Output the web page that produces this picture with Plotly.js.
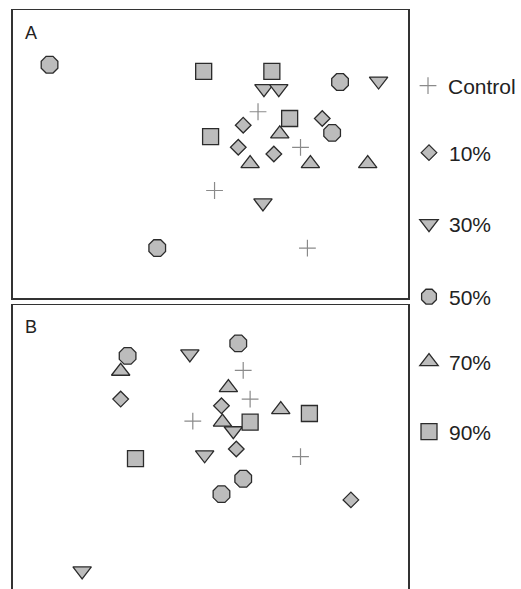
<!DOCTYPE html>
<html>
<head>
<meta charset="utf-8">
<script src="https://cdn.plot.ly/plotly-3.0.1.min.js"></script>
<style>
  html, body { margin: 0; padding: 0; background: #ffffff; }
  #chart { width: 521px; height: 589px; }
</style>
</head>
<body>
<div id="chart"></div>
<script>
// ---- Data (ordination scores, arbitrary units) ----
const groups = ['Control', '10%', '30%', '50%', '70%', '90%'];

// Panel A
const A_control_x = [0.48, 0.91, 0.04, 0.98];
const A_control_y = [0.44, 0.07, -0.38, -0.98];
const A_10_x = [0.33, 1.13, 0.28, 0.64];
const A_10_y = [0.30, 0.37, 0.07, 0.00];
const A_30_x = [0.54, 0.69, 1.70, 0.53];
const A_30_y = [0.68, 0.68, 0.76, -0.51];
const A_50_x = [-1.63, 1.31, 1.23, -0.54];
const A_50_y = [0.93, 0.75, 0.22, -0.98];
const A_70_x = [0.70, 0.40, 1.01, 1.59];
const A_70_y = [0.21, -0.10, -0.10, -0.10];
const A_90_x = [-0.07, 0.62, 0.80, 0.00];
const A_90_y = [0.86, 0.86, 0.37, 0.18];

// Panel B
const B_control_x = [0.33, 0.40, -0.18, 0.91];
const B_control_y = [0.82, 0.52, 0.29, -0.08];
const B_10_x = [-0.91, 0.11, 0.26, 1.42];
const B_10_y = [0.52, 0.45, 0.00, -0.53];
const B_30_x = [-0.21, 0.23, -0.06, -1.30];
const B_30_y = [0.99, 0.19, -0.06, -1.27];
const B_50_x = [0.28, -0.84, 0.33, 0.11];
const B_50_y = [1.10, 0.97, -0.31, -0.47];
const B_70_x = [-0.91, 0.18, 0.71, 0.12];
const B_70_y = [0.81, 0.64, 0.41, 0.28];
const B_90_x = [0.40, 1.00, -0.76];
const B_90_y = [0.28, 0.37, -0.10];

const panelLabels = ['A', 'B'];

// ---- Styles ----
const W = 521, H = 589;
const fill = '#bcbcbc';
const edge = '#2b2b2b';
const symbols = ['cross-thin', 'diamond', 'triangle-down', 'octagon', 'triangle-up', 'square'];
const sizes = [12, 12, 16, 18, 16, 16];
const legendNames = ['legend', 'legend2', 'legend3', 'legend4', 'legend5', 'legend6'];
const legendY = [86, 153, 224, 297, 362, 432];

const dataA = [[A_control_x, A_control_y], [A_10_x, A_10_y], [A_30_x, A_30_y],
               [A_50_x, A_50_y], [A_70_x, A_70_y], [A_90_x, A_90_y]];
const dataB = [[B_control_x, B_control_y], [B_10_x, B_10_y], [B_30_x, B_30_y],
               [B_50_x, B_50_y], [B_70_x, B_70_y], [B_90_x, B_90_y]];

function markerFor(i) {
  if (symbols[i] === 'cross-thin') {
    return { symbol: 'cross-thin', size: sizes[i], color: '#8a8a8a',
             line: { color: '#8a8a8a', width: 1.2 } };
  }
  return { symbol: symbols[i], size: sizes[i], color: fill,
           line: { color: edge, width: 1.3 } };
}

const traces = [];
groups.forEach((g, i) => {
  traces.push({
    type: 'scatter', mode: 'markers', name: g,
    x: dataA[i][0], y: dataA[i][1], xaxis: 'x', yaxis: 'y',
    marker: markerFor(i), legend: legendNames[i], showlegend: true,
    hoverinfo: 'skip'
  });
});
groups.forEach((g, i) => {
  traces.push({
    type: 'scatter', mode: 'markers', name: g,
    x: dataB[i][0], y: dataB[i][1], xaxis: 'x2', yaxis: 'y2',
    marker: markerFor(i), showlegend: false, hoverinfo: 'skip'
  });
});

const xDom = [13 / W, 409 / W];
const axBase = {
  showgrid: false, zeroline: false, showticklabels: false, ticks: '',
  showline: true, linecolor: '#333333', linewidth: 1.5, fixedrange: true
};

const layout = {
  width: W, height: H, autosize: false,
  margin: { l: 0, r: 0, t: 0, b: 0, pad: 0 },
  paper_bgcolor: '#ffffff', plot_bgcolor: '#ffffff',
  font: { family: 'Liberation Sans, Arial, sans-serif', color: '#222222' },
  showlegend: true,
  xaxis: Object.assign({}, axBase, { domain: xDom, range: [-2, 2], anchor: 'y', mirror: true }),
  yaxis: Object.assign({}, axBase, { domain: [1 - 298 / H, 1 - 10 / H], range: [-1.5, 1.5], anchor: 'x', mirror: true }),
  xaxis2: Object.assign({}, axBase, { domain: xDom, range: [-2, 2], anchor: 'y2', side: 'top', mirror: false }),
  yaxis2: Object.assign({}, axBase, { domain: [0, 1 - 305 / H], range: [-1.458, 1.5], anchor: 'x2', mirror: true }),
  annotations: [
    { text: panelLabels[0], xref: 'paper', yref: 'paper', x: 23 / W, y: 1 - 33 / H,
      xanchor: 'left', yanchor: 'middle', showarrow: false,
      font: { size: 18, color: '#222222', family: 'Liberation Sans, Arial, sans-serif' } },
    { text: panelLabels[1], xref: 'paper', yref: 'paper', x: 23 / W, y: 1 - 327 / H,
      xanchor: 'left', yanchor: 'middle', showarrow: false,
      font: { size: 18, color: '#222222', family: 'Liberation Sans, Arial, sans-serif' } }
  ]
};

legendNames.forEach((ln, i) => {
  layout[ln] = {
    x: 409 / W, y: 1 - legendY[i] / H, xanchor: 'left', yanchor: 'middle',
    bgcolor: 'rgba(0,0,0,0)', borderwidth: 0,
    font: { size: 21, color: '#222222', family: 'Liberation Sans, Arial, sans-serif' },
    itemclick: false, itemdoubleclick: false
  };
});

Plotly.newPlot('chart', traces, layout, { displayModeBar: false, staticPlot: true });
</script>
</body>
</html>
